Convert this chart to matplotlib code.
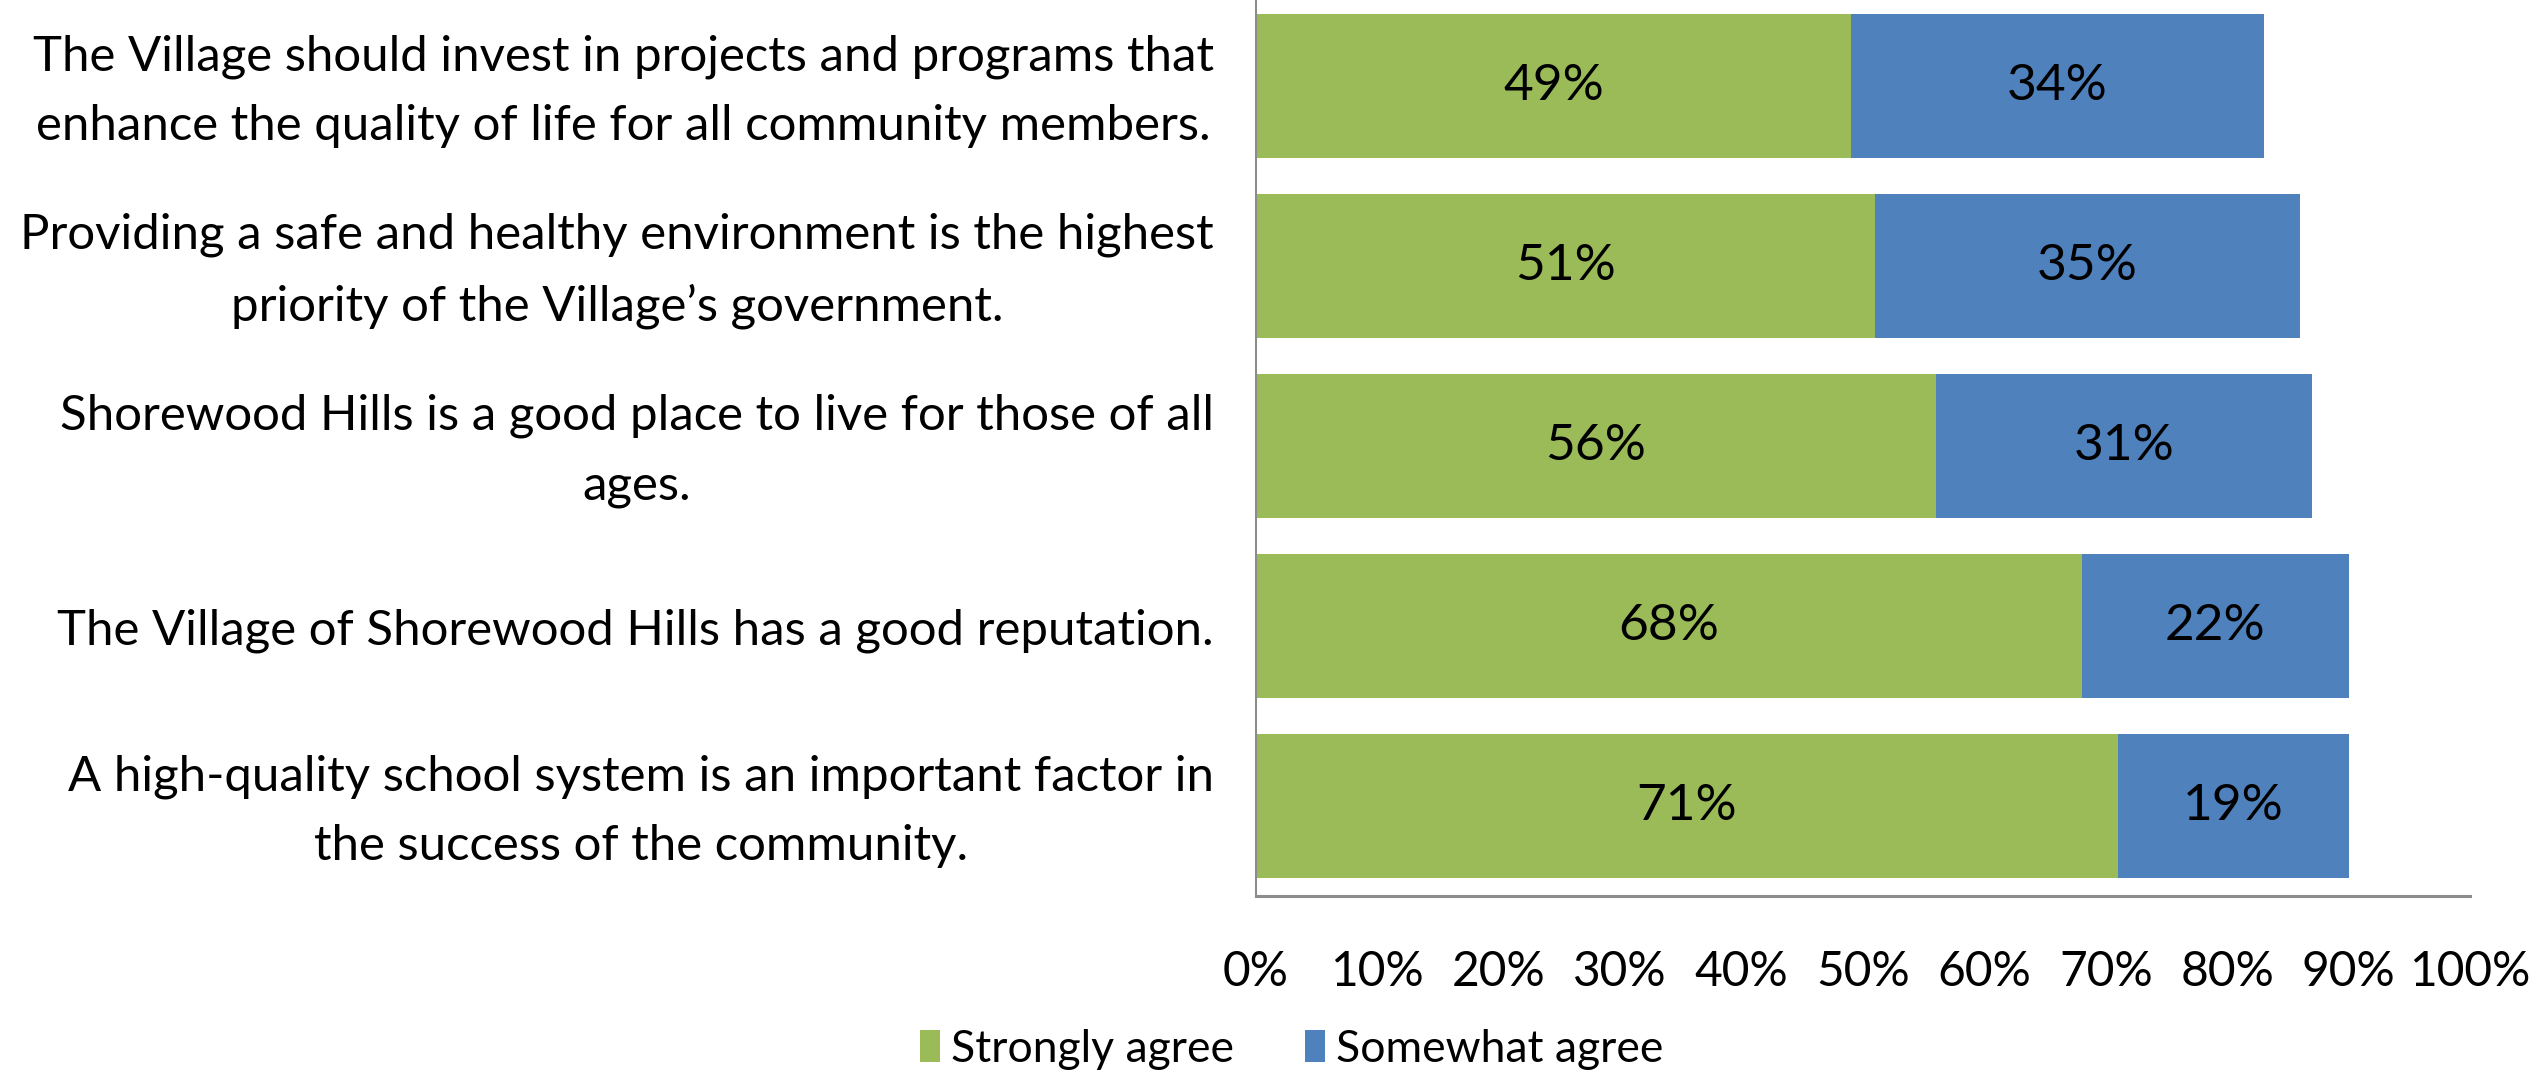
import numpy as np
import matplotlib.pyplot as plt
from matplotlib.transforms import offset_copy

plt.rcParams['font.family'] = ['Lato', 'DejaVu Sans']

statements = [
    "The Village should invest in projects and programs that\nenhance the quality of life for all community members.",
    "Providing a safe and healthy environment is the highest\npriority of the Village\u2019s government.",
    "Shorewood Hills is a good place to live for those of all\nages.",
    "The Village of Shorewood Hills has a good reputation.",
    "A high-quality school system is an important factor in\nthe success of the community.",
]
strongly_agree = [49, 51, 56, 68, 71]
somewhat_agree = [34, 35, 31, 22, 19]
series_names = ["Strongly agree", "Somewhat agree"]
x_ticks = [0, 10, 20, 30, 40, 50, 60, 70, 80, 90, 100]

GREEN = "#9BBB59"
BLUE = "#4F81BD"

fig = plt.figure(figsize=(25.42, 10.71), dpi=100)
ax = fig.add_axes([1256 / 2542, 175 / 1071, 1214 / 2542, 900 / 1071])

y = np.arange(len(statements))
sa = np.array(strongly_agree) / 100
wa = np.array(somewhat_agree) / 100

b1 = ax.barh(y, sa, height=0.8, color=GREEN, label=series_names[0])
b2 = ax.barh(y, wa, left=sa, height=0.8, color=BLUE, label=series_names[1])

for bars, vals in ((b1, strongly_agree), (b2, somewhat_agree)):
    ax.bar_label(bars, labels=[f"{v}%" for v in vals], label_type="center",
                 fontsize=37, color="black")

ax.set_xlim(0, 1)
ax.set_ylim(len(statements) - 0.5, -0.5)
ax.set_xticks([t / 100 for t in x_ticks])
ax.set_xticklabels([f"{t}%" for t in x_ticks], fontsize=34.5)
ax.set_yticks(y)
ax.set_yticklabels([])
ax.tick_params(axis="both", length=0)
ax.tick_params(axis="x", pad=39)

# category labels drawn as text so the line spacing can be set
label_tf = offset_copy(ax.get_yaxis_transform(), fig=fig, x=-42, y=-5,
                       units="dots")
for yi, text in zip(y, statements):
    ax.text(0, yi, text, transform=label_tf, ha="right", va="center",
            multialignment="center", linespacing=1.7, fontsize=35.4)

for side in ("top", "right"):
    ax.spines[side].set_visible(False)
ax.spines["left"].set_color("#8c8c8c")
ax.spines["left"].set_linewidth(1.5)
ax.spines["bottom"].set_color("#8c8c8c")
ax.spines["bottom"].set_linewidth(2.2)

fig.legend(handles=[b1, b2], labels=series_names, loc="center",
           bbox_to_anchor=(1292 / 2542, 1 - 1049 / 1071), ncol=2,
           frameon=False, fontsize=32, handlelength=0.45, handleheight=0.7,
           handletextpad=0.25, columnspacing=1.6)

fig.savefig("out.png", dpi=100)
